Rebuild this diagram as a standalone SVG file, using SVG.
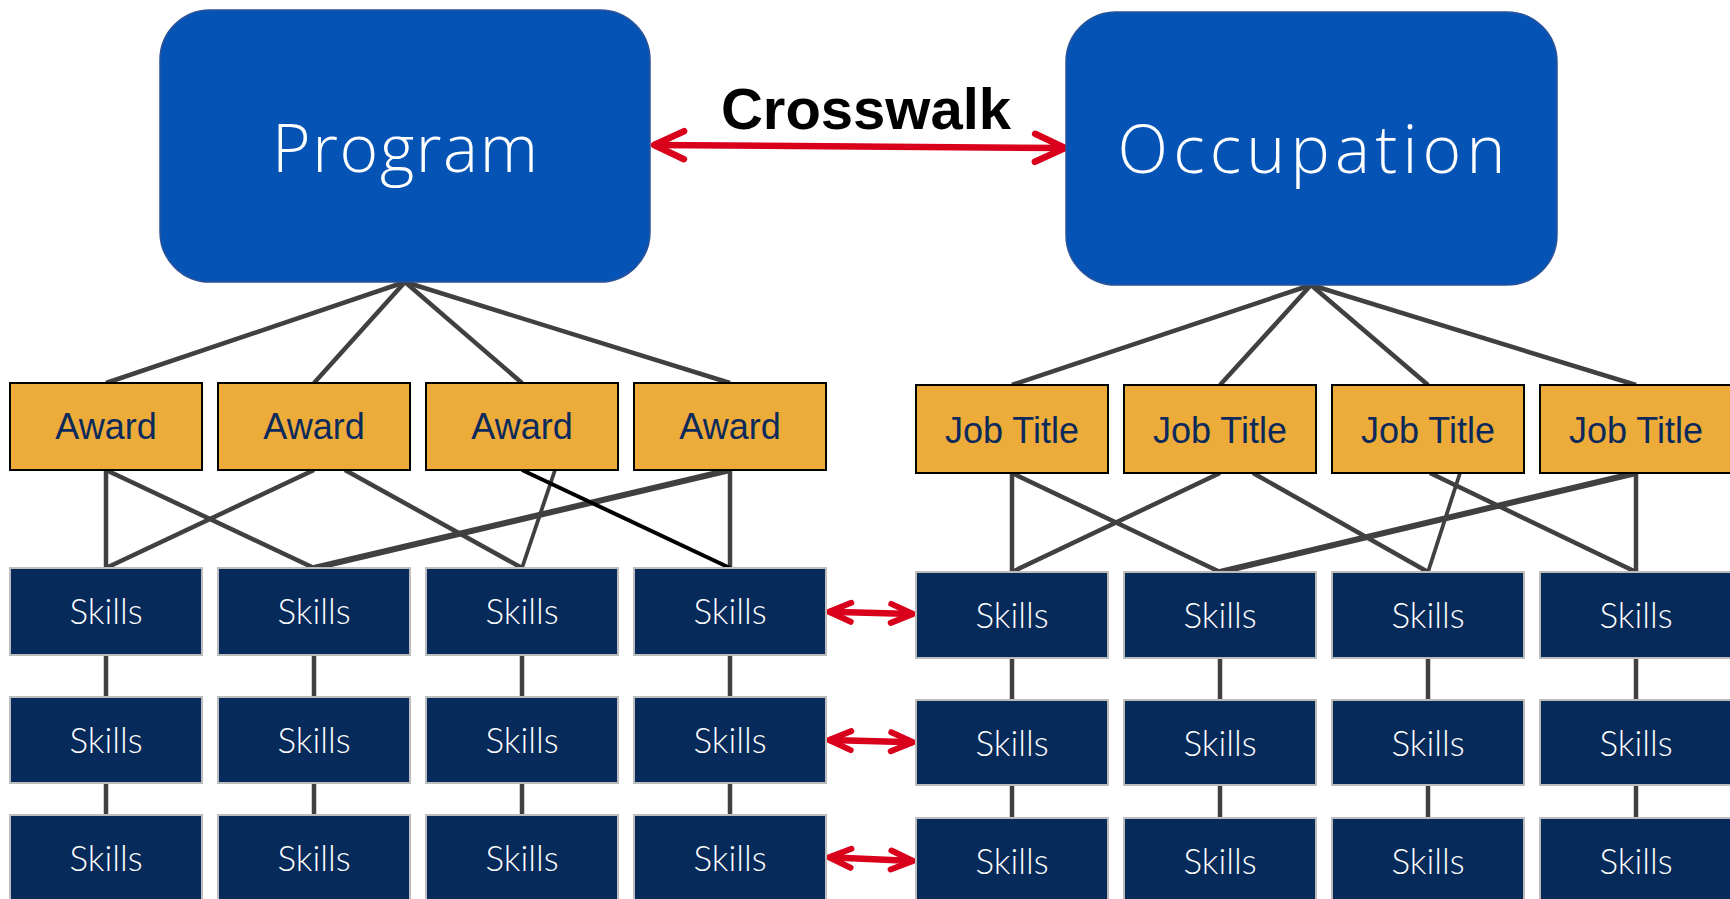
<svg xmlns="http://www.w3.org/2000/svg" width="1730" height="899" viewBox="0 0 1730 899">
<defs>
<style>
.top{fill:#0554B5;stroke:#2A5298;stroke-width:1.5}
.topt{font-family:"Open Sans","Liberation Sans",sans-serif;font-weight:300;font-size:66px;fill:#fff;text-anchor:middle}
.aw{fill:#EDAB39;stroke:#000;stroke-width:2}
.awt{font-family:"Liberation Sans",Arial,sans-serif;font-size:36px;fill:#0B2A5B;text-anchor:middle}
.sk{fill:#062A5A;stroke:#BDBDBD;stroke-width:2}
.skt{font-family:"Lato","Open Sans",sans-serif;font-weight:300;font-size:35px;fill:#fff;text-anchor:middle}
.ln{stroke:#404040;stroke-width:4.5;fill:none}
.red{stroke:#D9001B;stroke-width:6.5;fill:none}
</style>
<marker id="big" viewBox="-40 -20 44 40" refX="0" refY="0" markerWidth="44" markerHeight="40" markerUnits="userSpaceOnUse" orient="auto-start-reverse">
<path d="M-30,-14 L0,0 L-30,14" fill="none" stroke="#D9001B" stroke-width="6.5" stroke-linecap="round" stroke-linejoin="round"/>
</marker>
<marker id="sm" viewBox="-30 -15 34 30" refX="0" refY="0" markerWidth="34" markerHeight="30" markerUnits="userSpaceOnUse" orient="auto-start-reverse">
<path d="M-22,-9.5 L0,0 L-22,9.5" fill="none" stroke="#D9001B" stroke-width="6" stroke-linecap="round" stroke-linejoin="round"/>
</marker>
</defs>
<rect width="1730" height="899" fill="#fff"/>

<g id="connectors">
<g class="ln">
<line x1="405" y1="282" x2="106" y2="383"/>
<line x1="405" y1="282" x2="314" y2="383"/>
<line x1="405" y1="282" x2="522" y2="383"/>
<line x1="405" y1="282" x2="730" y2="383"/>
<line x1="1311" y1="285" x2="1012" y2="385"/>
<line x1="1311" y1="285" x2="1220" y2="385"/>
<line x1="1311" y1="285" x2="1428" y2="385"/>
<line x1="1311" y1="285" x2="1636" y2="385"/>

<line x1="106" y1="470" x2="106" y2="568"/>
<line x1="106" y1="470" x2="314" y2="568"/>
<line x1="314" y1="470" x2="106" y2="568"/>
<line x1="345" y1="470" x2="522" y2="568"/>
<line x1="555" y1="470" x2="522" y2="568" stroke-width="3.8"/>
<line x1="730" y1="470" x2="314" y2="568" stroke-width="6"/>
<line x1="730" y1="470" x2="730" y2="568"/>

<line x1="1012" y1="473" x2="1012" y2="572"/>
<line x1="1012" y1="473" x2="1220" y2="572"/>
<line x1="1220" y1="473" x2="1012" y2="572"/>
<line x1="1253" y1="473" x2="1428" y2="572"/>
<line x1="1430" y1="473" x2="1636" y2="572"/>
<line x1="1460" y1="473" x2="1428" y2="572" stroke-width="3.8"/>
<line x1="1636" y1="473" x2="1220" y2="572" stroke-width="6"/>
<line x1="1636" y1="473" x2="1636" y2="572"/>

<line x1="106" y1="655" x2="106" y2="697"/>
<line x1="314" y1="655" x2="314" y2="697"/>
<line x1="522" y1="655" x2="522" y2="697"/>
<line x1="730" y1="655" x2="730" y2="697"/>
<line x1="106" y1="783" x2="106" y2="815"/>
<line x1="314" y1="783" x2="314" y2="815"/>
<line x1="522" y1="783" x2="522" y2="815"/>
<line x1="730" y1="783" x2="730" y2="815"/>

<line x1="1012" y1="658" x2="1012" y2="700"/>
<line x1="1220" y1="658" x2="1220" y2="700"/>
<line x1="1428" y1="658" x2="1428" y2="700"/>
<line x1="1636" y1="658" x2="1636" y2="700"/>
<line x1="1012" y1="785" x2="1012" y2="818"/>
<line x1="1220" y1="785" x2="1220" y2="818"/>
<line x1="1428" y1="785" x2="1428" y2="818"/>
<line x1="1636" y1="785" x2="1636" y2="818"/>
</g>
<line x1="522" y1="470" x2="730" y2="568" stroke="#000" stroke-width="4"/>

<line class="red" x1="654" y1="145" x2="1065" y2="148" marker-start="url(#big)" marker-end="url(#big)"/>
<line class="red" x1="829" y1="611.7" x2="913" y2="614" stroke-width="6" marker-start="url(#sm)" marker-end="url(#sm)"/>
<line class="red" x1="829" y1="740" x2="913" y2="742.3" stroke-width="6" marker-start="url(#sm)" marker-end="url(#sm)"/>
<line class="red" x1="829" y1="857.3" x2="913" y2="861" stroke-width="6" marker-start="url(#sm)" marker-end="url(#sm)"/>
</g>

<text x="866" y="129" font-family="Liberation Sans, Arial, sans-serif" font-weight="bold" font-size="58" text-anchor="middle" fill="#000">Crosswalk</text>

<g id="program"><rect class="top" x="160" y="10" width="490" height="272" rx="50"/><text class="topt" x="405" y="171.7" textLength="266" lengthAdjust="spacing">Program</text></g>
<g id="occupation"><rect class="top" x="1066" y="12" width="491" height="273" rx="50"/><text class="topt" x="1311.5" y="173.3" textLength="388" lengthAdjust="spacing">Occupation</text></g>

<g id="award1"><rect class="aw" x="10" y="383" width="192" height="87"/><text class="awt" x="106" y="439.3">Award</text></g>
<g id="award2"><rect class="aw" x="218" y="383" width="192" height="87"/><text class="awt" x="314" y="439.3">Award</text></g>
<g id="award3"><rect class="aw" x="426" y="383" width="192" height="87"/><text class="awt" x="522" y="439.3">Award</text></g>
<g id="award4"><rect class="aw" x="634" y="383" width="192" height="87"/><text class="awt" x="730" y="439.3">Award</text></g>

<g id="job1"><rect class="aw" x="916" y="385" width="192" height="88"/><text class="awt" x="1012" y="442.7">Job Title</text></g>
<g id="job2"><rect class="aw" x="1124" y="385" width="192" height="88"/><text class="awt" x="1220" y="442.7">Job Title</text></g>
<g id="job3"><rect class="aw" x="1332" y="385" width="192" height="88"/><text class="awt" x="1428" y="442.7">Job Title</text></g>
<g id="job4"><rect class="aw" x="1540" y="385" width="192" height="88"/><text class="awt" x="1636" y="442.7">Job Title</text></g>

<g id="skL11"><rect class="sk" x="10" y="568" width="192" height="87"/><text class="skt" x="106" y="624.3">Skills</text></g>
<g id="skL12"><rect class="sk" x="218" y="568" width="192" height="87"/><text class="skt" x="314" y="624.3">Skills</text></g>
<g id="skL13"><rect class="sk" x="426" y="568" width="192" height="87"/><text class="skt" x="522" y="624.3">Skills</text></g>
<g id="skL14"><rect class="sk" x="634" y="568" width="192" height="87"/><text class="skt" x="730" y="624.3">Skills</text></g>
<g id="skL21"><rect class="sk" x="10" y="697" width="192" height="86"/><text class="skt" x="106" y="753">Skills</text></g>
<g id="skL22"><rect class="sk" x="218" y="697" width="192" height="86"/><text class="skt" x="314" y="753">Skills</text></g>
<g id="skL23"><rect class="sk" x="426" y="697" width="192" height="86"/><text class="skt" x="522" y="753">Skills</text></g>
<g id="skL24"><rect class="sk" x="634" y="697" width="192" height="86"/><text class="skt" x="730" y="753">Skills</text></g>
<g id="skL31"><rect class="sk" x="10" y="815" width="192" height="87"/><text class="skt" x="106" y="871.3">Skills</text></g>
<g id="skL32"><rect class="sk" x="218" y="815" width="192" height="87"/><text class="skt" x="314" y="871.3">Skills</text></g>
<g id="skL33"><rect class="sk" x="426" y="815" width="192" height="87"/><text class="skt" x="522" y="871.3">Skills</text></g>
<g id="skL34"><rect class="sk" x="634" y="815" width="192" height="87"/><text class="skt" x="730" y="871.3">Skills</text></g>

<g id="skR11"><rect class="sk" x="916" y="572" width="192" height="86"/><text class="skt" x="1012" y="628.3">Skills</text></g>
<g id="skR12"><rect class="sk" x="1124" y="572" width="192" height="86"/><text class="skt" x="1220" y="628.3">Skills</text></g>
<g id="skR13"><rect class="sk" x="1332" y="572" width="192" height="86"/><text class="skt" x="1428" y="628.3">Skills</text></g>
<g id="skR14"><rect class="sk" x="1540" y="572" width="192" height="86"/><text class="skt" x="1636" y="628.3">Skills</text></g>
<g id="skR21"><rect class="sk" x="916" y="700" width="192" height="85"/><text class="skt" x="1012" y="756.3">Skills</text></g>
<g id="skR22"><rect class="sk" x="1124" y="700" width="192" height="85"/><text class="skt" x="1220" y="756.3">Skills</text></g>
<g id="skR23"><rect class="sk" x="1332" y="700" width="192" height="85"/><text class="skt" x="1428" y="756.3">Skills</text></g>
<g id="skR24"><rect class="sk" x="1540" y="700" width="192" height="85"/><text class="skt" x="1636" y="756.3">Skills</text></g>
<g id="skR31"><rect class="sk" x="916" y="818" width="192" height="87"/><text class="skt" x="1012" y="874.3">Skills</text></g>
<g id="skR32"><rect class="sk" x="1124" y="818" width="192" height="87"/><text class="skt" x="1220" y="874.3">Skills</text></g>
<g id="skR33"><rect class="sk" x="1332" y="818" width="192" height="87"/><text class="skt" x="1428" y="874.3">Skills</text></g>
<g id="skR34"><rect class="sk" x="1540" y="818" width="192" height="87"/><text class="skt" x="1636" y="874.3">Skills</text></g>
</svg>
